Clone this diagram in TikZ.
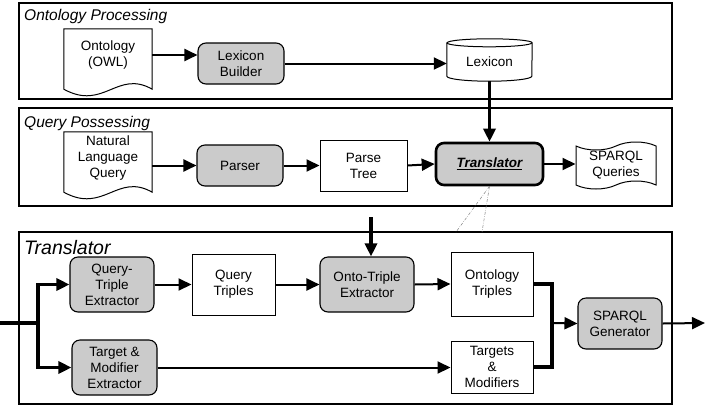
\documentclass[tikz,border=0pt]{standalone}
\usepackage{fontspec}
\setmainfont{Liberation Sans}
\usetikzlibrary{arrows.meta,shapes.symbols,calc}
\definecolor{boxgray}{HTML}{CBCBCB}
\newcommand\docoutline[1]{%
  \draw[docline] ([yshift=-8pt]#1.south west) -- (#1.north west) -- (#1.north east) -- ([yshift=-8pt]#1.south east)
    .. controls +(-35,-20) and +(40,22) .. ([yshift=-8pt]#1.south west) -- cycle;}
\newcommand\cylout[1]{%
  \draw[docline] (#1.north west) -- (#1.south west) arc[start angle=180,end angle=360,x radius=42.5pt,y radius=5pt]
    -- (#1.north east) arc[start angle=0,end angle=180,x radius=42.5pt,y radius=4pt] -- cycle;
  \draw[line width=1pt] (#1.north west) arc[start angle=180,end angle=360,x radius=42.5pt,y radius=4pt];}
\begin{document}
\begin{tikzpicture}[x=1pt,y=-1pt,
  every node/.style={font=\fontsize{13.5}{16}\selectfont, align=center, inner sep=0pt},
  frame/.style={draw, line width=1.1pt},
  title/.style={anchor=base west, font=\fontsize{15.5}{18}\selectfont\itshape},
  proc/.style={draw, fill=boxgray, rounded corners=8pt, line width=1.1pt},
  rbox/.style={draw, fill=white, line width=1pt},
  arr/.style={-{Triangle[length=13pt,width=12pt]}, line width=2pt},
  tarr/.style={-{Triangle[length=13pt,width=12pt]}, line width=3.2pt},
  tline/.style={line width=3.2pt},
  dots/.style={draw=gray, line width=0.5pt, dash pattern=on 3pt off 1.5pt on 0.5pt off 1.5pt},
  docline/.style={draw, fill=white, line width=1pt},
]
\useasboundingbox (0,0) rectangle (708,413);

% frames
\node[frame, minimum width=653pt, minimum height=96pt] (f1) at (345.5,51) {};
\node[frame, minimum width=653pt, minimum height=98pt] (f2) at (345.5,157) {};
\node[frame, minimum width=653pt, minimum height=172pt] (f3) at (345.5,318) {};
\node[title] (t1) at (24,20) {Ontology Processing};
\node[title] (t2) at (24,127) {Query Possessing};
\node[title, font=\fontsize{19.5}{22}\selectfont\itshape] (t3) at (24,254) {Translator};

% ontology processing
\node[minimum width=88pt, minimum height=52pt] (ontb) at (108,55) {};
\docoutline{ontb}
\node (ont) at (108,55) {Ontology\\(OWL)};
\node[proc, minimum width=86pt, minimum height=41pt] (lb) at (241,63.5) {Lexicon\\Builder};
\node[minimum width=85pt, minimum height=33pt] (lexb) at (489.5,59.5) {};
\cylout{lexb}
\node (lex) at (489.5,62) {Lexicon};

% query processing
\node[minimum width=88pt, minimum height=52pt] (nlqb) at (108,158) {};
\docoutline{nlqb}
\node (nlq) at (108,158) {Natural\\Language\\Query};
\node[proc, minimum width=86pt, minimum height=41pt] (parser) at (240,165.5) {Parser};
\node[rbox, minimum width=87pt, minimum height=51pt] (pt) at (363.5,165.5) {Parse\\Tree};
\node[proc, line width=2.6pt, minimum width=107pt, minimum height=42pt] (trans) at (489.5,164)
  {\bfseries\itshape\underline{Translator}};
\node[tape, draw, fill=white, line width=1pt, minimum width=80pt, minimum height=47pt, tape bend height=8pt] (sq) at (616,165.5) {SPARQL\\Queries};

% translator
\node[proc, minimum width=84pt, minimum height=55pt] (qte) at (112,284.5) {Query-\\Triple\\Extractor};
\node[rbox, minimum width=83pt, minimum height=61pt] (qt) at (233.5,284.5) {Query\\Triples};
\node[proc, minimum width=94pt, minimum height=55pt] (ote) at (367,284.5) {Onto-Triple\\Extractor};
\node[rbox, minimum width=82pt, minimum height=64pt] (ot) at (492,284) {Ontology\\Triples};
\node[proc, minimum width=84pt, minimum height=51pt] (sg) at (620,323.5) {SPARQL\\Generator};
\node[rbox, minimum width=82pt, minimum height=52pt] (tm) at (492,367) {Targets\\\&\\Modifiers};
\node[proc, minimum width=85pt, minimum height=55pt] (tme) at (114.5,367.5) {Target \&\\Modifier\\Extractor};

\coordinate (in) at (0,323);
\coordinate (j) at (38,323);
\coordinate (jr) at (552,323);
\coordinate (out) at (705,323);
\coordinate (ontoin) at (371,217);
\coordinate (d1) at (456,232);
\coordinate (d2) at (482,232);

% connectors
\draw[arr] (ontb.east) -- (ontb.east -| lb.west);
\draw[arr] (lb.east) -- (lb.east -| lexb.west);
\draw[tarr] ([yshift=-5pt]lexb.south) -- (trans.north);
\draw[arr] (nlqb.east |- parser.west) -- (parser.west);
\draw[arr] (parser.east) -- (pt.west);
\draw[arr] (pt.west -| pt.east) -- (trans.west);
\draw[arr] (trans.east) -- (trans.east -| sq.west);
\draw[dots] (trans.south) -- (d1);
\draw[dots] (trans.south) -- (d2);

\draw[tline] (in) -- (j);
\draw[tarr] (j) |- (qte.west);
\draw[tarr] (j) |- (tme.west);
\draw[arr] (qte.east) -- (qt.west);
\draw[arr] (qt.east) -- (ote.west);
\draw[arr] (ote.east) -- (ot.west);
\draw[tarr] (ontoin) -- (ontoin |- ote.north);
\draw[arr] (tme.east) -- (tme.east -| tm.west);
\draw[tline] (ot.east) -| (jr) |- (tm.east);
\draw[arr] (jr) -- (sg.west);
\draw[arr] (sg.east) -- (out);
\end{tikzpicture}
\end{document}
